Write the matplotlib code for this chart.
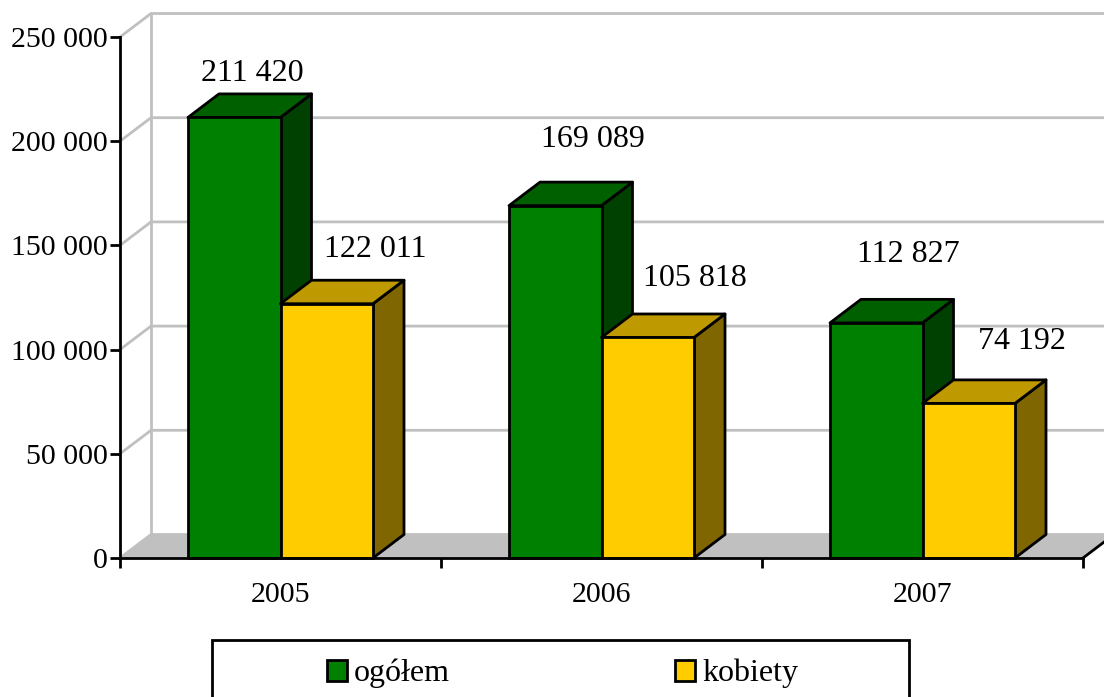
import matplotlib
matplotlib.use("Agg")
from matplotlib import pyplot as plt
from matplotlib.patches import Patch, Rectangle
from matplotlib.ticker import FuncFormatter

years = ["2005", "2006", "2007"]
ogolem = [211420, 169089, 112827]
kobiety = [122011, 105818, 74192]
labels_ogolem = ["211 420", "169 089", "112 827"]
labels_kobiety = ["122 011", "105 818", "74 192"]
y_ticks = [0, 50000, 100000, 150000, 200000, 250000]

# label offsets from the front top centre of each bar, pixels
off_ogolem = [(18, 44), (38, 66), (32, 68)]
off_kobiety = [(48, 54), (47, 59), (53, 62)]

plt.rcParams['font.family'] = ['Liberation Serif', 'DejaVu Serif']

W, H = 1104, 697
fig = plt.figure(figsize=(W / 100, H / 100), dpi=100)
ax = fig.add_axes([120 / W, (H - 558) / H, 963 / W, 521 / H])
ax.set_xlim(0, 3)
ax.set_ylim(0, 250000)
ax.patch.set_visible(False)

# one pixel in data units, the depth of the 3d box is set in pixels
px_x = 3 / 963
px_y = 250000 / 521
dx = 31 * px_x
dy = 23.5 * px_y
lw = 2
grey = '#c0c0c0'

# floor and back wall
ax.fill([0, dx, 3 + dx, 3], [0, dy, dy, 0], facecolor=grey, edgecolor='none',
        zorder=1, clip_on=False)
ax.plot([3, 3 + dx], [0, dy], color='black', lw=lw, zorder=1.5, clip_on=False)
for t in y_ticks:
    ax.plot([0, dx, 3.2], [t, t + dy, t + dy], color=grey, lw=lw,
            zorder=1.2, clip_on=False, solid_joinstyle='miter')
ax.plot([dx, dx], [dy, 250000 + dy], color=grey, lw=lw, zorder=1.2, clip_on=False)

# bars
width = 92.5 * px_x
gap = (1 - 2 * width) / 2
colors = {'front': ['#008000', '#ffcc00'],
          'top': ['#006000', '#bf9900'],
          'side': ['#004000', '#806600']}


def draw_bar(x, val, i, z):
    ax.fill([x + width, x + width + dx, x + width + dx, x + width],
            [0, dy, val + dy, val], facecolor=colors['side'][i],
            edgecolor='black', lw=lw, zorder=z, clip_on=False, joinstyle='round')
    ax.fill([x, x + dx, x + width + dx, x + width],
            [val, val + dy, val + dy, val], facecolor=colors['top'][i],
            edgecolor='black', lw=lw, zorder=z, clip_on=False, joinstyle='round')
    ax.bar(x, val, width=width, align='edge', color=colors['front'][i],
           edgecolor='black', linewidth=lw, zorder=z + 0.1, clip_on=False)


for n in range(len(years)):
    x1 = n + gap
    x2 = x1 + width
    draw_bar(x1, ogolem[n], 0, 2 + n)
    draw_bar(x2, kobiety[n], 1, 2.3 + n)
    ax.text(x1 + width / 2 + off_ogolem[n][0] * px_x,
            ogolem[n] + off_ogolem[n][1] * px_y, labels_ogolem[n],
            ha='center', va='center', fontsize=23, zorder=10)
    ax.text(x2 + width / 2 + off_kobiety[n][0] * px_x,
            kobiety[n] + off_kobiety[n][1] * px_y, labels_kobiety[n],
            ha='center', va='center', fontsize=23, zorder=10)

# axes
for s in ['top', 'right']:
    ax.spines[s].set_visible(False)
for s in ['left', 'bottom']:
    ax.spines[s].set_linewidth(lw)
    ax.spines[s].set_zorder(9)
ax.set_yticks(y_ticks)
ax.yaxis.set_major_formatter(FuncFormatter(lambda v, p: f"{int(v):,}".replace(",", " ")))
ax.tick_params(axis='y', length=7, width=lw, labelsize=21.5, pad=2)
ax.set_xticks([0, 1, 2, 3])
ax.set_xticklabels([])
ax.set_xticks([0.5, 1.5, 2.5], minor=True)
ax.set_xticklabels(years, minor=True)
ax.tick_params(axis='x', which='major', length=7, width=lw)
ax.tick_params(axis='x', which='minor', length=0, labelsize=21.5, pad=17)

# legend, the box runs off the bottom of the picture
fig.add_artist(Rectangle((212 / W, -0.02), 697 / W, (H - 640) / H + 0.02,
                         facecolor='white', edgecolor='black', lw=lw,
                         transform=fig.transFigure))
handles = [Patch(facecolor='#008000', edgecolor='black', lw=lw, label='ogółem'),
           Patch(facecolor='#ffcc00', edgecolor='black', lw=lw, label='kobiety')]
leg = fig.legend(handles=handles, ncol=2, frameon=False, fontsize=23,
                 loc='upper left', bbox_to_anchor=(327 / W, (H - 659) / H),
                 borderaxespad=0, borderpad=0, handlelength=0.63, handleheight=0.63,
                 handletextpad=0.22, columnspacing=7.05)

fig.savefig('out.png', dpi=100)
